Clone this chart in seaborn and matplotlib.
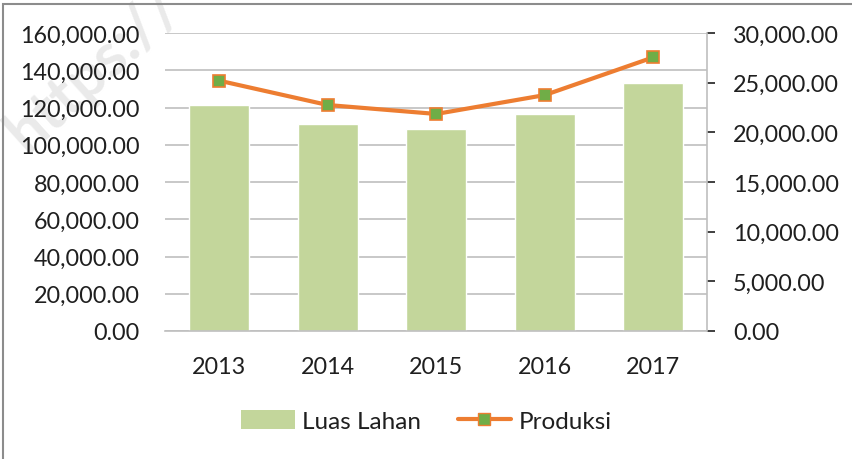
#!/usr/bin/env python3

"""Bar + line combo chart: Luas Lahan (left axis) and Produksi (right axis)."""

import seaborn as sns
import pandas as pd
import matplotlib.pyplot as plt
from matplotlib.patches import Patch, Rectangle
from matplotlib.lines import Line2D
from matplotlib.ticker import FuncFormatter

# DATA
years = ["2013", "2014", "2015", "2016", "2017"]
luas_lahan = [121400, 111100, 108400, 116500, 133200]
produksi = [25200, 22750, 21850, 23750, 27550]

left_ticks = [0, 20000, 40000, 60000, 80000, 100000, 120000, 140000, 160000]
right_ticks = [0, 5000, 10000, 15000, 20000, 25000, 30000]

# COLOURS
bar_color = "#C3D69B"
line_color = "#ED7D31"
marker_color = "#70AD47"
grid_color = "#BFBFBF"
text_color = "#1F1F1F"

sns.set_theme(style="white")
plt.rcParams["font.family"] = ["Lato", "DejaVu Sans"]
fs = 16.8

df = pd.DataFrame({"Tahun": years, "Luas Lahan": luas_lahan, "Produksi": produksi})

fig = plt.figure(figsize=(8.53, 4.6), dpi=100)
ax = fig.add_axes([165 / 853, 1 - 332 / 460, (707.5 - 165) / 853, (332 - 34) / 460])
ax.set_facecolor("none")

# bars on left axis
sns.barplot(data=df, x="Tahun", y="Luas Lahan", color=bar_color, saturation=1,
            width=0.55, ax=ax, zorder=2)
ax.set_ylim(0, 160000)
ax.set_xlim(-0.5, 4.5)
ax.set_yticks(left_ticks)
ax.yaxis.set_major_formatter(FuncFormatter(lambda v, p: f"{v:,.2f}"))
ax.yaxis.grid(True, color=grid_color, linewidth=1.2, zorder=0)
ax.set_axisbelow(True)
ax.set_xlabel("")
ax.set_ylabel("")
for s in ["top", "right", "left"]:
    ax.spines[s].set_visible(False)
ax.spines["bottom"].set_color(grid_color)
ax.spines["bottom"].set_linewidth(1.2)
ax.tick_params(axis="y", labelsize=fs, colors=text_color, length=0, pad=18)
ax.tick_params(axis="x", labelsize=fs, colors=text_color, length=0, pad=18)

# line on right axis
ax2 = ax.twinx()
ax2.set_facecolor("none")
sns.lineplot(data=df, x="Tahun", y="Produksi", color=line_color, linewidth=3,
             marker="s", markersize=9, markerfacecolor=marker_color,
             markeredgecolor=line_color, markeredgewidth=1.2, ax=ax2, zorder=3)
ax2.set_ylim(0, 30000)
ax2.set_yticks(right_ticks)
ax2.yaxis.set_major_formatter(FuncFormatter(lambda v, p: f"{v:,.2f}"))
ax2.set_ylabel("")
for s in ["top", "left", "bottom"]:
    ax2.spines[s].set_visible(False)
ax2.spines["right"].set_color(grid_color)
ax2.spines["right"].set_linewidth(1.2)
ax2.tick_params(axis="y", labelsize=fs, colors=text_color, direction="out",
                length=5.5, width=1.2, pad=13)
for t in ax2.get_yticklines():
    t.set_color(grid_color)

# legend
handles = [
    Patch(facecolor=bar_color, edgecolor="none"),
    Line2D([0], [0], color=line_color, linewidth=3, marker="s", markersize=9,
           markerfacecolor=marker_color, markeredgecolor=line_color),
]
fig.legend(handles, ["Luas Lahan", "Produksi"], loc="center",
           bbox_to_anchor=(0.5, 1 - 422 / 460), ncol=2, frameon=False,
           fontsize=17.5, handlelength=2.2, handleheight=0.85, columnspacing=1.5,
           handletextpad=0.3, labelcolor=text_color)

# chart border (only top and left edges are within the picture)
fig.patches.append(Rectangle((3 / 853, -0.1), 1.2, 1.1 - 5 / 460,
                             transform=fig.transFigure, fill=False,
                             edgecolor="#8C8C8C", linewidth=1.5))

# faint watermark behind the chart
fig.text(-0.005, 1 - 152 / 460, "https://", rotation=42, fontsize=44,
         fontweight="bold", color="#EAEAEA", ha="left", va="baseline", zorder=-1)

fig.savefig("out.png", dpi=100)
